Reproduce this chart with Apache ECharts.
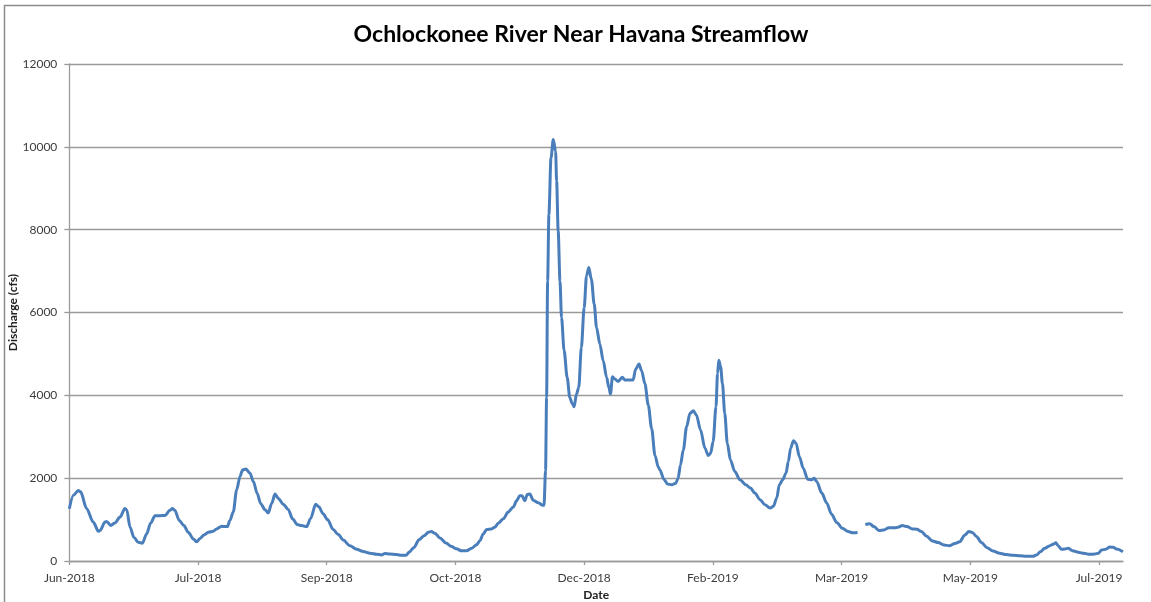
<!DOCTYPE html>
<html>
<head>
<meta charset="utf-8">
<title>Ochlockonee River Near Havana Streamflow</title>
<script src="https://cdn.jsdelivr.net/npm/echarts@6/dist/echarts.min.js"></script>
<style>
  html, body { margin: 0; padding: 0; background: #ffffff; }
  #chart { width: 1151px; height: 602px; }
</style>
</head>
<body>
<div id="chart"></div>
<script>
// Daily discharge samples, days counted from 1 Jun 2018 (null marks the missing record in March 2019)
const dayOffsets = [
  0, 1.6, 3.5, 4.4, 6.7, 9.3, 11.3, 11.9, 13.9, 14.5, 16.1, 17.7, 19.7, 21.6, 22.3, 23.6, 25.1, 26.8, 28.4,
  30.0, 31.6, 33.3, 35.2, 37.2, 39.1, 40.0, 41.0, 42.7, 44.5, 46.2, 48.2, 49.5, 50.8, 52.3, 54.0, 55.9,
  57.2, 59.2, 60.5, 61.4, 62.4, 63.7, 65.0, 66.3, 67.3, 68.6, 70.2, 71.5, 73.0, 74.3, 76.0, 77.3, 78.6,
  79.9, 81.2, 83.1, 85.1, 86.7, 88.6, 90.2, 92.2, 93.7, 95.7, 96.9, 98.6, 100.3, 102.5, 104.5, 106.4,
  109.0, 111.6, 114.2, 116.8, 119.4, 121.3, 122.6, 124.5, 127.1, 129.1, 130.8, 132.1, 133.9, 135.8,
  137.8, 139.5, 140.7, 142.0, 144.0, 146.3, 148.5, 150.4, 152.4, 154.3, 156.3, 158.2, 159.5, 160.8,
  162.1, 164.0, 165.3, 166.6, 168.6, 170.5, 172.5, 173.7, 175.0, 175.9, 176.9, 177.9, 178.9, 180.2,
  182.2, 183.9, 184.4, 185.0, 185.4, 185.8, 186.3, 187.1, 188.0, 188.9, 189.3, 189.9, 190.6, 191.2,
  192.2, 193.4, 194.4, 195.3, 196.1, 197.0, 197.9, 198.9, 200.0, 200.9, 201.8, 202.8, 203.9, 204.8,
  206.1, 207.4, 208.7, 209.6, 210.2, 211.0, 211.9, 213.2, 214.8, 215.8, 217.1, 219.0, 220.0, 221.3,
  222.3, 223.6, 224.9, 226.2, 227.5, 228.8, 229.4, 231.0, 232.4, 234.0, 235.6, 236.5, 237.4, 238.5,
  239.8, 241.1, 242.4, 243.6, 245.2, 246.9, 248.2, 249.1, 250.1, 251.2, 251.8, 252.3, 253.0, 253.7,
  254.6, 255.6, 256.8, 258.5, 260.5, 262.8, 264.6, 266.3, 268.3, 270.2, 272.2, 273.5, 274.8, 275.8,
  277.1, 278.4, 279.3, 280.2, 281.3, 282.3, 283.6, 285.1, 286.8, 288.4, 289.3, 290.3, 292.3, 294.2,
  296.1, 298.1, 300.3, 302.5, 304.5, 306.2, 307.7, 309.2, 310.9, 312.5, 314.5, 316.4, 318.4, 320.6,
  321.9, 323.6, 325.4, 327.5, 329.3, 331.0, 332.9, 335.3, 337.5, 339.7, 342.0, 344.0, 345.9, 347.9,
  349.4, 350.8, 352.4, 354.3, 356.5, 358.8, 361.4, 364.0, 366.6, 369.2, 371.8, 374.4, 375.7, 377.2,
  378.9, 380.9, 382.4, 383.2, 384.1, 385.4, 386.7, 388.0, 389.7, 391.9, 394.1, 396.4, 398.4, 399.7,
  401.0, 402.6, 404.2, 405.5, 406.8, 409.3
];

const discharge = [
  1260, 1590, 1700, 1670, 1270, 940, 720, 735, 940, 955, 860, 915, 1060, 1265, 1240, 815, 570, 450, 430,
  650, 915, 1095, 1095, 1100, 1225, 1265, 1225, 980, 855, 695, 530, 465, 545, 630, 695, 720,
  775, 840, 830, 830, 980, 1185, 1715, 2040, 2200, 2220, 2120, 1920, 1630, 1390, 1240, 1160, 1390,
  1615, 1510, 1370, 1240, 1020, 880, 855, 830, 1020, 1370, 1310, 1140, 1000, 760, 640, 506,
  367, 286, 228, 188, 163, 147, 180, 171, 155, 139, 139, 220, 326, 514,
  612, 694, 710, 669, 555, 432, 351, 294, 245, 245, 310, 392, 490, 653,
  759, 775, 816, 914, 1020, 1183, 1306, 1452, 1575, 1575, 1452, 1608, 1616, 1469,
  1404, 1346, 1346, 2185, 3950, 6760, 8370, 9730, 10180, 9890, 9170, 7970, 6760, 5880,
  5080, 4430, 3950, 3810, 3725, 4030, 4190, 5155, 6120, 6880, 7085, 6800, 6200, 5640,
  5235, 4835, 4435, 4190, 4030, 4450, 4395, 4335, 4435, 4370, 4370, 4370, 4635, 4755,
  4595, 4280, 3760, 3200, 2550, 2265, 2200, 1970, 1860, 1840, 1880, 2000, 2320, 2680,
  3245, 3565, 3630, 3525, 3165, 2725, 2545, 2600, 2885, 3725, 4530, 4850, 4690, 4290,
  3565, 2845, 2440, 2160, 1960, 1840, 1760, 1640, 1480, 1360, 1280, 1320, 1520, 1840,
  1960, 2120, 2400, 2725, 2905, 2845, 2520, 2240, 1975, 1960, 2000, 1920, 1640, 1400,
  1130, 930, 790, 710, 680, 690, null, 880, 900, 830, 735, 750, 805, 805,
  815, 855, 830, 775, 765, 710, 605, 485, 445, 385, 370, 425, 465, 630,
  710, 690, 590, 445, 320, 240, 185, 155, 137, 129, 113, 113, 145, 225,
  306, 370, 411, 443, 370, 282, 290, 306, 250, 209, 185, 161, 169, 185,
  266, 282, 338, 330, 290, 225
];

// Date axis: a labelled tick every 50 days
const tickDays = [0, 50, 100, 150, 200, 250, 300, 350, 400];
const tickLabels = ['Jun-2018', 'Jul-2018', 'Sep-2018', 'Oct-2018', 'Dec-2018', 'Feb-2019', 'Mar-2019', 'May-2019', 'Jul-2019'];

const seriesData = dayOffsets.map((d, i) => [d, discharge[i]]);

const fontFamily = 'Lato, "Open Sans", sans-serif';
const gridColor = '#9a9a9a';
const textColor = '#3c3c3c';

const chart = echarts.init(document.getElementById('chart'), null, { renderer: 'canvas' });

chart.setOption({
  backgroundColor: '#ffffff',
  animation: false,
  title: {
    text: 'Ochlockonee River Near Havana Streamflow',
    left: 576,
    textAlign: 'center',
    top: 18,
    textStyle: { fontFamily, fontSize: 23, fontWeight: 'bold', color: '#000000' }
  },
  graphic: [{
    type: 'polyline',
    shape: { points: [[4.5, 602], [4.5, 5.5], [1151, 5.5]] },
    style: { stroke: '#8c8c8c', lineWidth: 1.5, fill: null },
    silent: true
  }],
  grid: { left: 69.3, right: 28, top: 64, bottom: 41, containLabel: false, outerBoundsMode: 'none' },
  xAxis: {
    type: 'value',
    min: 0,
    max: 409.3,
    name: 'Date',
    nameLocation: 'middle',
    nameGap: 28,
    nameMoveOverlap: false,
    nameTextStyle: { fontFamily, fontSize: 12, fontWeight: 'bold', color: '#222222' },
    axisLine: { show: true, lineStyle: { color: gridColor, width: 1.3 } },
    axisTick: { show: true, length: 4, customValues: tickDays, lineStyle: { color: gridColor, width: 1.3 } },
    axisLabel: {
      customValues: tickDays,
      margin: 11,
      fontFamily, fontSize: 12, color: textColor,
      formatter: v => tickLabels[tickDays.indexOf(Math.round(v))] || ''
    },
    splitLine: { show: false }
  },
  yAxis: {
    type: 'value',
    min: 0,
    max: 12000,
    interval: 2000,
    name: 'Discharge (cfs)',
    nameLocation: 'middle',
    nameGap: 50,
    nameMoveOverlap: false,
    nameTextStyle: { fontFamily, fontSize: 12, fontWeight: 'bold', color: '#222222' },
    axisLine: { show: true, lineStyle: { color: gridColor, width: 1.3 } },
    axisTick: { show: true, length: 5, lineStyle: { color: gridColor, width: 1.3 } },
    axisLabel: { margin: 12, fontFamily, fontSize: 12, color: textColor, formatter: v => String(v) },
    splitLine: { show: true, lineStyle: { color: gridColor, width: 1.3 } }
  },
  series: [{
    type: 'line',
    name: 'Discharge',
    data: seriesData,
    showSymbol: false,
    connectNulls: false,
    smooth: 0.3,
    smoothMonotone: 'x',
    lineStyle: { color: '#4a7ebb', width: 3 },
    itemStyle: { color: '#4a7ebb' },
    silent: true
  }]
});
</script>
</body>
</html>
